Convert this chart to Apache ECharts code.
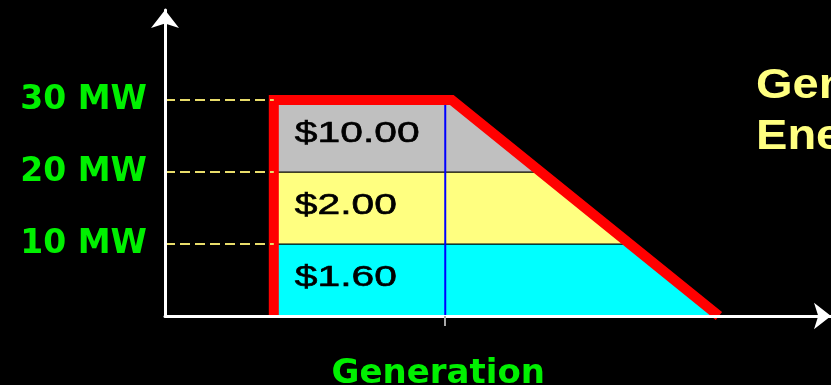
<!DOCTYPE html>
<html>
<head>
<meta charset="utf-8">
<script src="https://cdn.jsdelivr.net/npm/echarts@6/dist/echarts.min.js"></script>
<style>
  html, body { margin: 0; padding: 0; background: #000; }
  #chart { width: 831px; height: 385px; }
</style>
</head>
<body>
<div id="chart"></div>
<script>
// Offer curve outline (generation units, MW)
const outlineX = [16.5, 16.5, 43.5, 84];
const outlineY = [0, 30, 30, 0];

// Price blocks stacked under the offer curve
const bandLow = [0, 10, 20];
const bandHigh = [10, 20, 30];
const bandPrice = ['$1.60', '$2.00', '$10.00'];
const bandColor = ['#00ffff', '#ffff80', '#c0c0c0'];

// Axis ticks
const yTicks = [10, 20, 30];
const yUnit = ' MW';
const genPoint = [42.5];
const genLabel = 'Generation';

const titleLines = ['Generator', 'Energy Offer'];

const chart = echarts.init(document.getElementById('chart'), null, { renderer: 'canvas' });

const outline = outlineX.map((x, i) => [x, outlineY[i]]);
const topY = outlineY[1];
const leftX = outlineX[0];
// right edge of the offer block at a given MW level (along the sloped side)
function rightEdgeAt(y) {
  const cx = outlineX[2], ex = outlineX[3];
  return cx + (ex - cx) * (topY - y) / topY;
}

chart.setOption({
  backgroundColor: '#000',
  animation: false,
  grid: { left: 165, right: 0, top: 10, bottom: 69, containLabel: false, outerBoundsMode: 'none' },
  xAxis: {
    type: 'value', min: 0, max: 101, z: 10,
    axisLine: { show: true, lineStyle: { color: '#ffffff', width: 3 }, symbol: ['none', 'arrow'], symbolSize: [20, 17] },
    axisTick: { show: true, customValues: genPoint, length: 10, lineStyle: { color: '#a8a8a8', width: 2 } },
    axisLabel: {
      show: true, customValues: genPoint, formatter: () => genLabel, margin: 41,
      padding: [0, 14, 0, 0],
      color: '#00f000', fontFamily: 'DejaVu Sans', fontWeight: 'bold', fontSize: 34, lineHeight: 34
    },
    splitLine: { show: false }
  },
  yAxis: {
    type: 'value', min: 0, max: 42.5, z: 10,
    axisLine: { show: true, lineStyle: { color: '#ffffff', width: 3 }, symbol: ['none', 'arrow'], symbolSize: [21, 18] },
    axisTick: { show: false },
    axisLabel: {
      show: true, customValues: yTicks, formatter: v => v + yUnit, margin: 18,
      color: '#00f000', fontFamily: 'DejaVu Sans', fontWeight: 'bold', fontSize: 33
    },
    splitLine: { show: false }
  },
  graphic: titleLines.map((t, i) => ({
    type: 'text', x: 756, y: 86 + i * 51, scaleX: 1.12,
    style: {
      text: t, fontFamily: 'Liberation Sans', fontWeight: 'bold', fontSize: 42,
      fill: '#ffff80', verticalAlign: 'middle', align: 'left'
    }
  })),
  series: [
    {
      type: 'custom',
      z: 2,
      data: bandLow.map((lo, i) => [lo, bandHigh[i]]),
      renderItem: function (params, api) {
        const lo = api.value(0), hi = api.value(1), i = params.dataIndex;
        const p0 = api.coord([leftX, lo]);
        const p1 = api.coord([rightEdgeAt(lo), lo]);
        const p2 = api.coord([rightEdgeAt(hi), hi]);
        const p3 = api.coord([leftX, hi]);
        return {
          type: 'group',
          children: [
            { type: 'polygon', shape: { points: [p0, p1, p2, p3] },
              style: { fill: bandColor[i], stroke: '#000', lineWidth: 1 } },
            { type: 'text', x: p0[0] + 21, y: (p0[1] + p3[1]) / 2 - 2, scaleX: 1.36,
              style: { text: bandPrice[i], fontFamily: 'Liberation Sans', fontSize: 30,
                       fill: '#000', stroke: '#000', lineWidth: 0.6,
                       align: 'left', verticalAlign: 'middle' } }
          ]
        };
      },
      markLine: {
        silent: true, symbol: 'none', label: { show: false },
        lineStyle: { color: '#e8dc6a', width: 2, type: [10, 5] },
        data: yTicks.map(v => [{ coord: [0, v] }, { coord: [leftX, v] }])
      }
    },
    {
      type: 'line', z: 3, showSymbol: false, silent: true,
      data: [[genPoint[0], 0], [genPoint[0], topY]],
      lineStyle: { color: '#0000ff', width: 2 }
    },
    {
      type: 'line', z: 4, showSymbol: false, silent: true,
      data: outline,
      lineStyle: { color: '#ff0000', width: 10, join: 'miter', cap: 'butt' }
    }
  ]
});
</script>
</body>
</html>
